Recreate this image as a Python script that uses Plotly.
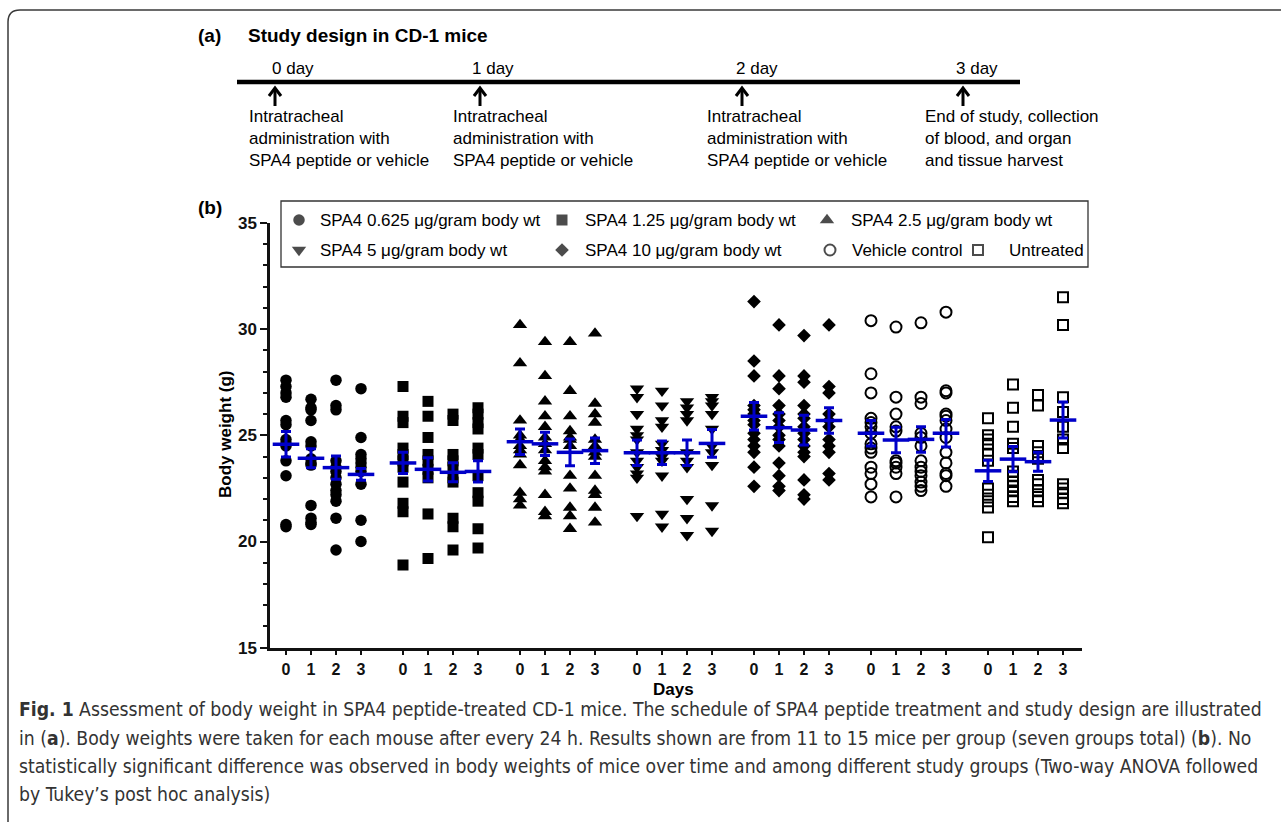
import plotly.graph_objects as go

W, H = 1281, 822

# ---------------- data ----------------
group_names = ["SPA4 0.625 μg/gram body wt", "SPA4 1.25 μg/gram body wt",
               "SPA4 2.5 μg/gram body wt", "SPA4 5 μg/gram body wt",
               "SPA4 10 μg/gram body wt", "Vehicle control", "Untreated"]
days = [0, 1, 2, 3]
day_labels = ["0", "1", "2", "3"]

spa4_0625 = [[27.6, 27.3, 27.0, 26.8, 25.7, 25.5, 24.8, 24.6, 24.5, 23.8, 23.1, 20.8, 20.7],
             [26.7, 26.3, 26.2, 25.7, 24.7, 24.5, 23.9, 23.7, 23.6, 21.7, 21.1, 20.9, 20.8],
             [27.6, 26.4, 26.2, 23.8, 23.5, 23.3, 23.0, 22.7, 22.4, 22.2, 21.9, 21.1, 19.6],
             [27.2, 24.9, 24.1, 23.9, 23.7, 23.5, 23.3, 22.7, 21.0, 20.0]]
spa4_125 = [[27.3, 25.9, 25.6, 24.4, 24.1, 23.8, 23.5, 22.8, 21.8, 21.4, 18.9],
            [26.6, 25.9, 24.9, 24.1, 23.8, 23.4, 23.0, 21.3, 19.2],
            [26.0, 25.7, 24.1, 23.8, 23.5, 23.0, 22.8, 21.1, 20.7, 19.6],
            [26.3, 26.0, 25.6, 25.3, 24.4, 24.1, 23.1, 22.3, 21.9, 20.6, 19.7]]
spa4_25 = [[30.2, 28.4, 25.7, 25.0, 24.8, 24.5, 24.3, 24.1, 23.6, 22.3, 22.0, 21.7],
           [29.4, 27.8, 26.6, 25.9, 25.4, 24.9, 24.6, 24.3, 23.8, 23.5, 23.3, 22.2, 21.4, 21.2],
           [29.4, 27.1, 25.9, 25.2, 24.9, 24.8, 24.5, 23.1, 22.5, 21.6, 21.2, 20.6],
           [29.8, 26.5, 26.0, 25.6, 24.8, 24.5, 24.4, 24.2, 24.0, 23.1, 22.4, 22.2, 21.6, 20.9]]
spa4_5 = [[27.2, 26.8, 26.0, 25.3, 25.0, 24.8, 24.2, 23.8, 23.5, 23.2, 23.0, 21.2],
          [27.1, 26.4, 25.7, 25.4, 24.6, 24.3, 24.0, 23.8, 23.1, 21.3, 20.7],
          [26.6, 26.3, 26.0, 25.7, 24.2, 23.8, 23.5, 22.0, 21.1, 20.3],
          [26.8, 26.6, 26.4, 26.0, 25.3, 24.5, 24.2, 23.6, 21.7, 20.5]]
spa4_10 = [[31.3, 28.5, 27.8, 26.4, 26.2, 26.0, 25.7, 25.5, 25.1, 24.8, 24.5, 24.2, 23.5, 22.6],
           [30.2, 27.8, 27.2, 26.4, 26.0, 25.7, 25.4, 25.0, 24.8, 24.5, 23.7, 23.1, 22.6, 22.4],
           [29.7, 27.8, 27.5, 26.4, 26.0, 25.8, 25.4, 25.1, 24.8, 24.5, 24.2, 24.0, 22.9, 22.2, 22.0],
           [30.2, 27.3, 27.0, 26.0, 25.7, 25.4, 24.8, 24.5, 24.2, 23.2, 22.9]]
vehicle = [[30.4, 27.9, 27.0, 25.8, 25.6, 25.4, 25.1, 24.6, 24.4, 24.2, 23.5, 23.2, 22.7, 22.1],
           [30.1, 26.8, 26.0, 25.4, 25.2, 23.8, 23.7, 23.5, 23.2, 22.1],
           [30.3, 26.8, 26.5, 25.1, 24.9, 24.5, 23.8, 23.5, 23.3, 23.1, 22.8, 22.6, 22.4],
           [30.8, 27.1, 27.0, 26.0, 25.9, 25.7, 25.3, 24.9, 24.2, 23.7, 23.2, 23.1, 22.6]]
untreated = [[25.8, 25.0, 24.8, 24.6, 24.1, 23.8, 22.5, 22.2, 21.9, 21.6, 20.2],
             [27.4, 26.3, 25.4, 24.6, 24.4, 23.3, 23.1, 22.8, 22.6, 22.4, 22.1, 21.9],
             [26.9, 26.4, 24.5, 24.2, 23.9, 22.9, 22.7, 22.4, 22.1, 21.9],
             [31.5, 30.2, 26.8, 26.1, 25.4, 24.8, 24.4, 22.7, 22.5, 22.3, 22.0, 21.8]]

group_means = [[24.58, 23.92, 23.48, 23.16],
               [23.70, 23.40, 23.26, 23.30],
               [24.70, 24.60, 24.20, 24.28],
               [24.18, 24.18, 24.18, 24.62],
               [25.90, 25.36, 25.25, 25.70],
               [25.10, 24.78, 24.81, 25.10],
               [23.33, 23.88, 23.76, 25.72]]
group_sems = [[0.60, 0.45, 0.55, 0.28],
              [0.50, 0.55, 0.45, 0.50],
              [0.60, 0.55, 0.63, 0.60],
              [0.60, 0.55, 0.60, 0.65],
              [0.65, 0.70, 0.70, 0.60],
              [0.60, 0.60, 0.60, 0.65],
              [0.50, 0.60, 0.45, 0.85]]

all_groups = [spa4_0625, spa4_125, spa4_25, spa4_5, spa4_10, vehicle, untreated]

timeline_days = ["0 day", "1 day", "2 day", "3 day"]
timeline_notes = ["Intratracheal<br>administration with<br>SPA4 peptide or vehicle",
                  "Intratracheal<br>administration with<br>SPA4 peptide or vehicle",
                  "Intratracheal<br>administration with<br>SPA4 peptide or vehicle",
                  "End of study, collection<br>of blood, and organ<br>and tissue harvest"]

caption_lines = [
    "<b>Fig. 1</b> Assessment of body weight in SPA4 peptide-treated CD-1 mice. The schedule of SPA4 peptide treatment and study design are illustrated",
    "in (<b>a</b>). Body weights were taken for each mouse after every 24 h. Results shown are from 11 to 15 mice per group (seven groups total) (<b>b</b>). No",
    "statistically significant difference was observed in body weights of mice over time and among different study groups (Two-way ANOVA followed",
    "by Tukey\u2019s post hoc analysis)",
]

# ---------------- styles ----------------
GROUP_STEP = 4.68
symbols = ["circle", "square", "triangle-up", "triangle-down", "diamond", "circle-open", "square-open"]
sizes = [11.5, 11, 12.5, 12.5, 10.5, 11, 10]
BLUE = "#0000C8"
INK = "#111111"
FONT = "Liberation Sans, Arial, sans-serif"
CAP_FONT = "DejaVu Sans Condensed, Liberation Sans Narrow, Arial Narrow, sans-serif"

fig = go.Figure()

tick_positions, tick_text = [], []
for gi, grp in enumerate(all_groups):
    xs, ys = [], []
    for di, vals in enumerate(grp):
        xpos = gi * GROUP_STEP + days[di]
        xs += [xpos] * len(vals)
        ys += vals
        tick_positions.append(xpos)
        tick_text.append(day_labels[di])
    mk = dict(symbol=symbols[gi], size=sizes[gi], color="black")
    if symbols[gi].endswith("open"):
        mk["line"] = dict(width=2, color="black")
    else:
        mk["line"] = dict(width=0)
    fig.add_trace(go.Scatter(x=xs, y=ys, mode="markers", marker=mk,
                             name=group_names[gi], showlegend=False, hoverinfo="y"))

# mean +/- SEM
for gi in range(len(all_groups)):
    xs = [gi * GROUP_STEP + d for d in days]
    fig.add_trace(go.Scatter(
        x=xs, y=group_means[gi], mode="markers", showlegend=False,
        marker=dict(symbol="line-ew", size=19, color=BLUE, line=dict(width=3.5, color=BLUE)),
        error_y=dict(type="data", array=group_sems[gi], visible=True, color=BLUE,
                     thickness=3, width=5)))

# ---------------- decorative layer in pixel coordinates ----------------
leg_x = [299, 562, 827, 299, 562, 830, 978]
leg_y = [220, 220, 220, 250, 250, 250, 250]
leg_text_x = [318, 583, 849, 318, 583, 850, 1007]
fig.add_trace(go.Scatter(
    x=leg_x, y=leg_y, mode="markers", xaxis="x2", yaxis="y2", showlegend=False, hoverinfo="skip",
    marker=dict(symbol=symbols, size=sizes, color="black",
                line=dict(width=[0, 0, 0, 0, 0, 2, 2], color="black"))))

X0, X1 = 270, 1082
Y35, Y15 = 223, 647.7

fig.update_layout(
    width=W, height=H, plot_bgcolor="rgba(0,0,0,0)", paper_bgcolor="white",
    margin=dict(l=0, r=0, t=0, b=0, pad=0, autoexpand=False),
    showlegend=False,
    xaxis=dict(domain=[X0 / W, X1 / W], range=[-0.64, 31.84], showgrid=False, zeroline=False,
               showline=True, linewidth=2.5, linecolor=INK, ticks="outside", ticklen=5,
               tickwidth=2, tickcolor=INK, tickmode="array", tickvals=tick_positions,
               ticktext=tick_text, tickfont=dict(family=FONT, size=16, color=INK, weight="bold"),
               anchor="y", automargin=False),
    yaxis=dict(domain=[1 - Y15 / H, 1 - Y35 / H], range=[15, 35], showgrid=False, zeroline=False,
               showline=True, linewidth=2.5, linecolor=INK, ticks="outside", ticklen=7,
               tickwidth=2, tickcolor=INK, tickmode="linear", tick0=15, dtick=5,
               minor=dict(dtick=1, ticks="outside", ticklen=4, tickwidth=2, tickcolor=INK),
               tickfont=dict(family=FONT, size=17, color=INK, weight="bold"), anchor="x",
               automargin=False),
    xaxis2=dict(domain=[0, 1], range=[0, W], visible=False, anchor="y2", fixedrange=True,
                automargin=False),
    yaxis2=dict(domain=[0, 1], range=[H, 0], visible=False, anchor="x2", fixedrange=True,
                automargin=False),
)

shapes = []
ann = []


def text(x, y, s, size, xanchor="left", yanchor="middle", color="black", family=FONT, align="left"):
    ann.append(dict(x=x, y=y, xref="x2", yref="y2", text=s, showarrow=False, xanchor=xanchor,
                    yanchor=yanchor, align=align, font=dict(family=family, size=size, color=color)))


# outer frame
shapes.append(dict(type="path", xref="x2", yref="y2", path="M 8,822 L 8,22 Q 8,10 20,10 L 1281,10",
                   line=dict(color="#3a3a3a", width=1.5)))

# panel (a)
text(196, 35, "<b>(a)</b>", 19)
text(246, 35, "<b>Study design in CD-1 mice</b>", 19)
shapes.append(dict(type="line", xref="x2", yref="y2", x0=237, x1=1020, y0=82, y1=82,
                   line=dict(color="black", width=4.5)))
day_label_x = [293, 493, 757, 977]
arrow_x = [275, 480, 742, 963]
note_x = [247, 451, 705, 923]
for i in range(4):
    text(day_label_x[i], 68, timeline_days[i], 17, xanchor="center")
    ax = arrow_x[i]
    shapes.append(dict(type="line", xref="x2", yref="y2", x0=ax, x1=ax, y0=88, y1=106,
                       line=dict(color="black", width=3)))
    shapes.append(dict(type="path", xref="x2", yref="y2",
                       path=f"M {ax-6},{96} L {ax},{88} L {ax+6},{96}",
                       line=dict(color="black", width=3)))
    text(note_x[i], 105, timeline_notes[i], 17, yanchor="top")

# panel (b)
text(196, 207, "<b>(b)</b>", 19)
shapes.append(dict(type="rect", xref="x2", yref="y2", x0=281, x1=1088, y0=201, y1=267,
                   line=dict(color="#333333", width=1.3), fillcolor="rgba(0,0,0,0)"))
for i in range(7):
    text(leg_text_x[i], leg_y[i], group_names[i], 17)

text(225, 435, "<b>Body weight (g)</b>", 17, xanchor="center")
ann[-1]["textangle"] = -90
text(673, 689, "<b>Days</b>", 17, xanchor="center")

# caption
cap_y = [709, 738, 766, 794]
for i, line in enumerate(caption_lines):
    text(17, cap_y[i], line, 19.2, color="#333333", family=CAP_FONT)

fig.update_layout(shapes=shapes, annotations=ann)

fig.write_html("out.html", config={"displayModeBar": False},
               post_script="document.body.style.margin='0';document.body.style.overflow='hidden';")
